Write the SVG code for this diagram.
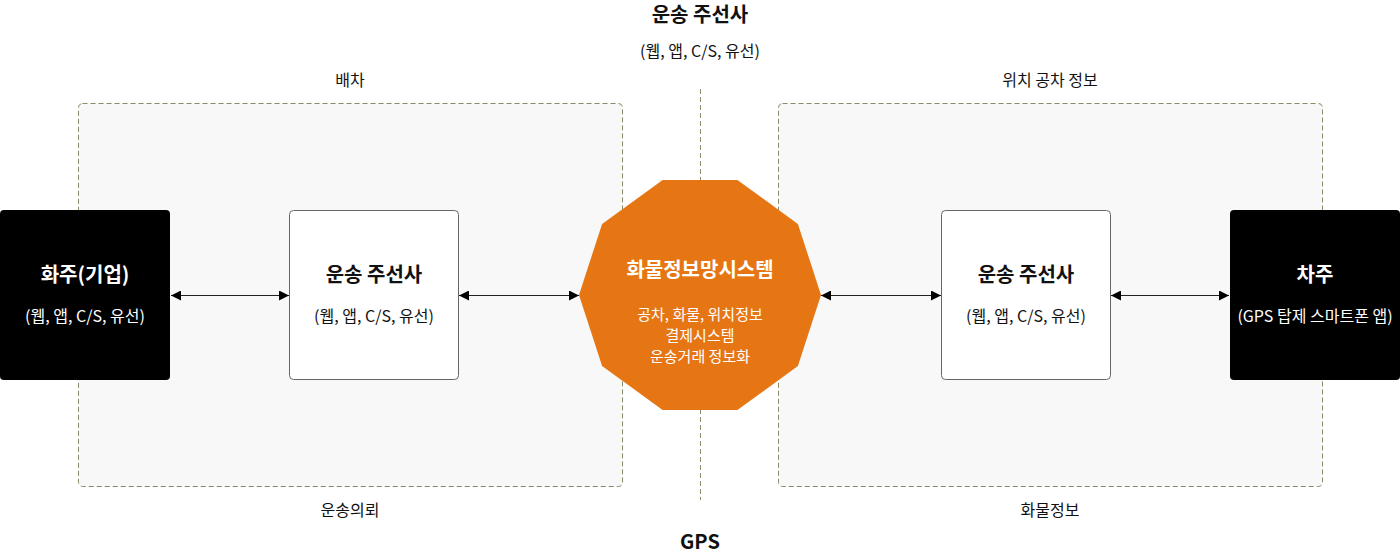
<svg xmlns="http://www.w3.org/2000/svg" width="1400" height="555" viewBox="0 0 1400 555">
<style>
text{font-family:"Noto Sans CJK KR","Noto Sans",sans-serif;text-anchor:middle;fill:#111;}
.t{font-size:20px;font-weight:700;}
.s{font-size:16px;}
.m{font-size:15px;}
.w{fill:#fff;}
.group{fill:#f8f8f8;stroke:#8a8a6a;stroke-width:1;stroke-dasharray:5 3;}
.conn{stroke:#222;stroke-width:1;fill:none;marker-start:url(#ah);marker-end:url(#ah);}
</style>
<defs>
<marker id="ah" viewBox="0 0 10 10" refX="10" refY="5" markerWidth="10" markerHeight="10" markerUnits="userSpaceOnUse" orient="auto-start-reverse">
<path d="M0,0 L10,5 L0,10 Z" fill="#000"/>
</marker>
</defs>
<g id="groups">
<rect class="group" x="78.5" y="103.5" width="544" height="383" rx="4"/>
<rect class="group" x="778.5" y="103.5" width="544" height="383" rx="4"/>
<line x1="700.5" y1="89" x2="700.5" y2="500" stroke="#8a8a6a" stroke-dasharray="5 3"/>
</g>
<g id="labels">
<text class="t" x="700" y="22">운송 주선사</text>
<text class="s" x="700" y="57">(웹, 앱, C/S, 유선)</text>
<text class="s" x="350" y="86">배차</text>
<text class="s" x="1050" y="86">위치 공차 정보</text>
<text class="s" x="350" y="516">운송의뢰</text>
<text class="s" x="1050" y="516">화물정보</text>
<text class="t" x="700" y="549">GPS</text>
</g>
<g id="connectors">
<line class="conn" x1="171" y1="295.5" x2="289" y2="295.5"/>
<line class="conn" x1="459" y1="295.5" x2="579" y2="295.5"/>
<line class="conn" x1="821" y1="295.5" x2="941" y2="295.5"/>
<line class="conn" x1="1111" y1="295.5" x2="1229" y2="295.5"/>
</g>
<g id="shipper">
<rect x="0" y="210" width="170" height="170" rx="4" fill="#000"/>
<text class="t w" x="85" y="282">화주(기업)</text>
<text class="s w" x="85" y="322">(웹, 앱, C/S, 유선)</text>
</g>
<g id="forwarder-left">
<rect x="289.5" y="210.5" width="169" height="169" rx="4" fill="#fff" stroke="#666"/>
<text class="t" x="374" y="282">운송 주선사</text>
<text class="s" x="374" y="322">(웹, 앱, C/S, 유선)</text>
</g>
<g id="system">
<polygon points="821,295 797.9,223.9 737.4,180 662.6,180 602.1,223.9 579,295 602.1,366.1 662.6,410 737.4,410 797.9,366.1" fill="#e67614"/>
<text class="t w" x="700" y="277">화물정보망시스템</text>
<text class="m w" x="700" y="320">공차, 화물, 위치정보</text>
<text class="m w" x="700" y="341">결제시스템</text>
<text class="m w" x="700" y="362">운송거래 정보화</text>
</g>
<g id="forwarder-right">
<rect x="941.5" y="210.5" width="169" height="169" rx="4" fill="#fff" stroke="#666"/>
<text class="t" x="1026" y="282">운송 주선사</text>
<text class="s" x="1026" y="322">(웹, 앱, C/S, 유선)</text>
</g>
<g id="carrier">
<rect x="1230" y="210" width="170" height="170" rx="4" fill="#000"/>
<text class="t w" x="1315" y="282">차주</text>
<text class="s w" x="1315" y="322">(GPS 탑제 스마트폰 앱)</text>
</g>
</svg>
